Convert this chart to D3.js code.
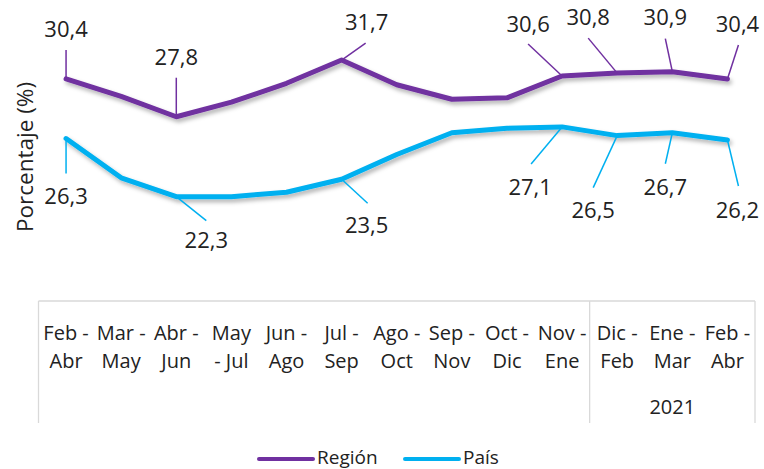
<!DOCTYPE html>
<html>
<head>
<meta charset="utf-8">
<script src="https://cdn.jsdelivr.net/npm/d3@7"></script>
<style>
  body { margin: 0; background: #fff; }
  text { font-family: "Open Sans", sans-serif; fill: #222; }
</style>
</head>
<body>
<svg id="chart" width="764" height="469"></svg>
<script>
// Periods (two-line labels)
const periodTop = ["Feb -", "Mar -", "Abr -", "May", "Jun -", "Jul -", "Ago -", "Sep -", "Oct -", "Nov -", "Dic -", "Ene -", "Feb -"];
const periodBottom = ["Abr", "May", "Jun", "- Jul", "Ago", "Sep", "Oct", "Nov", "Dic", "Ene", "Feb", "Mar", "Abr"];
const yearLabel = "2021";
const yearStart = 10; // first period of 2021 group

// Series values (%)
const region = [30.4, 29.2, 27.8, 28.8, 30.1, 31.7, 30.0, 29.0, 29.1, 30.6, 30.8, 30.9, 30.4];
const pais = [26.3, 23.6, 22.3, 22.3, 22.6, 23.5, 25.2, 26.7, 27.0, 27.1, 26.5, 26.7, 26.2];

// which points carry a data label
const regionLabeled = [0, 2, 5, 9, 10, 11, 12];
const paisLabeled = [0, 2, 5, 9, 10, 11, 12];

// label placement (offsets from point): [textDx, textDy, leaderDx, leaderDy]
const regionLabelPos = {
  0: [0, -42, 0, -29], 2: [0, -52, 0, -39], 5: [25, -30, 24, -17],
  9: [-34, -44, -34, -32], 10: [-29, -48, -29, -35], 11: [-7, -47, -7, -33], 12: [10, -47, 11, -34]
};
const paisLabelPos = {
  0: [0, 65, 0, 35], 2: [30, 51, 30, 24], 5: [25, 54, 26, 24],
  9: [-32, 68, -31, 37], 10: [-24, 82, -24, 52], 11: [-7, 62, -7, 31], 12: [10, 78, 11, 46]
};

const colorRegion = "#7030A0";
const colorPais = "#00B0F0";

const svg = d3.select("#chart");

const defs = svg.append("defs");
const shadow = defs.append("filter").attr("id", "shadow")
  .attr("x", "-10%").attr("y", "-50%").attr("width", "120%").attr("height", "200%");
shadow.append("feDropShadow")
  .attr("dx", 2).attr("dy", 3).attr("stdDeviation", 2)
  .attr("flood-color", "#000").attr("flood-opacity", 0.3);

const idx = d3.range(periodTop.length);
const x = d3.scaleBand().domain(idx).range([38.5, 755]).padding(0);
const cx = i => x(i) + x.bandwidth() / 2;
const y = d3.scaleLinear().domain([20, 34]).range([230.1, 26.6]);

// category axis box
const boxTop = 301, boxBottom = 423;
const grid = svg.append("g").attr("stroke", "#d9d9d9").attr("stroke-width", 1.3);
grid.append("line").attr("x1", 38.5).attr("x2", 755).attr("y1", boxTop).attr("y2", boxTop);
[x(0), x(yearStart), x.range()[1]].forEach(v => {
  grid.append("line").attr("x1", v).attr("x2", v).attr("y1", boxTop).attr("y2", boxBottom);
});

const cat = svg.append("g").attr("font-size", 20).attr("text-anchor", "middle");
cat.selectAll(".t1").data(idx).enter().append("text")
  .attr("x", cx).attr("y", 340).text(i => periodTop[i]);
cat.selectAll(".t2").data(idx).enter().append("text")
  .attr("x", cx).attr("y", 368).text(i => periodBottom[i]);
cat.append("text")
  .attr("x", (x(yearStart) + x.range()[1]) / 2).attr("y", 414).text(yearLabel);

// y axis title
svg.append("text")
  .attr("transform", "translate(33,157) rotate(-90)")
  .attr("text-anchor", "middle").attr("font-size", 22.5)
  .text("Porcentaje (%)");

const line = d3.line().x((d, i) => cx(i)).y(d => y(d));

function drawSeries(values, color, labeled, pos) {
  svg.append("path").datum(values)
    .attr("d", line).attr("fill", "none")
    .attr("stroke", color).attr("stroke-width", 5)
    .attr("stroke-linejoin", "round").attr("stroke-linecap", "round")
    .attr("filter", "url(#shadow)");

  const g = svg.append("g");
  labeled.forEach(i => {
    const p = pos[i];
    const px = cx(i), py = y(values[i]);
    g.append("line")
      .attr("x1", px).attr("y1", py)
      .attr("x2", px + p[2]).attr("y2", py + p[3])
      .attr("stroke", color).attr("stroke-width", 1.5);
    g.append("text")
      .attr("x", px + p[0]).attr("y", py + p[1])
      .attr("text-anchor", "middle").attr("font-size", 22)
      .text(d3.format(".1f")(values[i]).replace(".", ","));
  });
}

drawSeries(region, colorRegion, regionLabeled, regionLabelPos);
drawSeries(pais, colorPais, paisLabeled, paisLabelPos);

// legend
const legend = [
  { name: "Región", color: colorRegion, x: 259 },
  { name: "País", color: colorPais, x: 405 }
];
const lg = svg.append("g");
legend.forEach(l => {
  lg.append("line")
    .attr("x1", l.x).attr("x2", l.x + 54).attr("y1", 459).attr("y2", 459)
    .attr("stroke", l.color).attr("stroke-width", 4).attr("stroke-linecap", "round");
  lg.append("text")
    .attr("x", l.x + 58).attr("y", 464).attr("font-size", 19).text(l.name);
});
</script>
</body>
</html>
